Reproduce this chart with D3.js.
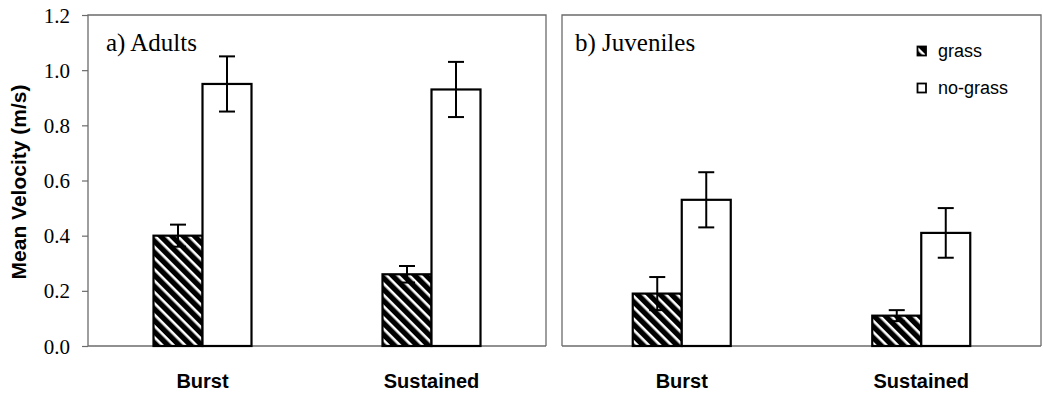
<!DOCTYPE html>
<html>
<head>
<meta charset="utf-8">
<script src="https://cdn.jsdelivr.net/npm/d3@7"></script>
<style>
  html, body { margin: 0; padding: 0; background: #fff; }
  svg { display: block; }
  .serif { font-family: "Liberation Serif", "Times New Roman", serif; }
  .sans { font-family: "Liberation Sans", Arial, sans-serif; }
  .yaxis text { font-family: "Liberation Serif", "Times New Roman", serif !important; font-size: 21px !important; fill: #000; }
</style>
</head>
<body>
<svg id="chart" width="1043" height="395"></svg>
<script>
// Mean swimming velocity by trial type, with and without grass
const categories = ["Burst", "Sustained"];
const seriesNames = ["grass", "no-grass"];
const panels = ["a) Adults", "b) Juveniles"];

const adultsGrass = [0.40, 0.26];
const adultsGrassErr = [0.04, 0.03];
const adultsNoGrass = [0.95, 0.93];
const adultsNoGrassErr = [0.10, 0.10];

const juvGrass = [0.19, 0.11];
const juvGrassErr = [0.06, 0.02];
const juvNoGrass = [0.53, 0.41];
const juvNoGrassErr = [0.10, 0.09];

const yTicks = [0, 0.2, 0.4, 0.6, 0.8, 1.0, 1.2];

const svg = d3.select("#chart");
const defs = svg.append("defs");

// diagonal hatch: black ground with thin white stripes running top-left to bottom-right
const pat = defs.append("pattern")
  .attr("id", "hatch")
  .attr("patternUnits", "userSpaceOnUse")
  .attr("width", 8).attr("height", 8)
  .attr("patternTransform", "rotate(45)");
pat.append("rect").attr("width", 8).attr("height", 8).attr("fill", "#000");
pat.append("rect").attr("x", 0).attr("y", 0).attr("width", 8).attr("height", 2.6).attr("fill", "#fff");

const plotTop = 15, plotBottom = 346;
const y = d3.scaleLinear().domain([0, 1.2]).range([plotBottom, plotTop]);

const panelBoxes = [
  { x0: 88, x1: 546, tx: 106, grass: adultsGrass, gErr: adultsGrassErr, ng: adultsNoGrass, ngErr: adultsNoGrassErr },
  { x0: 562, x1: 1041, tx: 575, grass: juvGrass, gErr: juvGrassErr, ng: juvNoGrass, ngErr: juvNoGrassErr }
];

const frameColor = "#6b6b6b";

panelBoxes.forEach((p, i) => {
  const g = svg.append("g");
  const x = d3.scaleBand().domain(categories).range([p.x0, p.x1]).paddingInner(0).paddingOuter(0);
  const bw = 49;
  const inner = d3.scaleBand().domain(seriesNames).range([-bw, bw]);

  // frame
  g.append("path")
    .attr("d", `M${p.x0},${plotBottom} V${plotTop} H${p.x1} V${plotBottom}`)
    .attr("fill", "none").attr("stroke", frameColor).attr("stroke-width", 1.3);
  g.append("line")
    .attr("x1", p.x0).attr("x2", p.x1).attr("y1", plotBottom).attr("y2", plotBottom)
    .attr("stroke", frameColor).attr("stroke-width", 1.3);

  const rows = categories.map((c, k) => ({
    cat: c,
    vals: [
      { s: "grass", v: p.grass[k], e: p.gErr[k] },
      { s: "no-grass", v: p.ng[k], e: p.ngErr[k] }
    ]
  }));

  rows.forEach(r => {
    const cx = x(r.cat) + x.bandwidth() / 2;
    r.vals.forEach(d => {
      const bx = cx + inner(d.s);
      g.append("rect")
        .attr("x", bx).attr("y", y(d.v))
        .attr("width", inner.bandwidth()).attr("height", y(0) - y(d.v))
        .attr("fill", d.s === "grass" ? "url(#hatch)" : "#fff")
        .attr("stroke", "#000").attr("stroke-width", 2.2);
      const ex = bx + inner.bandwidth() / 2;
      const eb = g.append("g").attr("stroke", "#000").attr("stroke-width", 2);
      eb.append("line").attr("x1", ex).attr("x2", ex).attr("y1", y(d.v + d.e)).attr("y2", y(d.v - d.e));
      eb.append("line").attr("x1", ex - 8).attr("x2", ex + 8).attr("y1", y(d.v + d.e)).attr("y2", y(d.v + d.e));
      eb.append("line").attr("x1", ex - 8).attr("x2", ex + 8).attr("y1", y(d.v - d.e)).attr("y2", y(d.v - d.e));
    });
    // category label
    svg.append("text")
      .attr("class", "sans")
      .attr("x", cx).attr("y", 388)
      .attr("text-anchor", "middle")
      .style("font-weight", "bold").style("font-size", "20px")
      .text(r.cat);
  });

  // panel title
  svg.append("text")
    .attr("class", "serif")
    .attr("x", p.tx).attr("y", 51)
    .style("font-size", "25px")
    .text(panels[i]);
});

// y axis on the left panel
const axis = d3.axisLeft(y).tickValues(yTicks).tickFormat(d3.format(".1f")).tickSize(6).tickPadding(12);
const ax = svg.append("g")
  .attr("class", "yaxis")
  .attr("transform", "translate(88,0)")
  .call(axis)
  .attr("font-family", null)
  .attr("font-size", null);
ax.select(".domain").remove();
ax.selectAll(".tick line").attr("stroke", frameColor).attr("stroke-width", 1.2);
ax.selectAll(".tick text").attr("dy", "0.34em");

// y axis title
svg.append("text")
  .attr("class", "sans")
  .attr("transform", `translate(26,182) rotate(-90)`)
  .attr("text-anchor", "middle")
  .style("font-weight", "bold").style("font-size", "21px")
  .text("Mean Velocity (m/s)");

// legend
const legend = svg.append("g").attr("transform", "translate(917,46)");
seriesNames.forEach((s, k) => {
  const row = legend.append("g").attr("transform", `translate(0,${k * 37})`);
  row.append("rect")
    .attr("x", 0.5).attr("y", 0.5).attr("width", 8.5).attr("height", 9)
    .attr("fill", s === "grass" ? "url(#hatch)" : "#fff")
    .attr("stroke", "#000").attr("stroke-width", 1.8);
  row.append("text")
    .attr("class", "sans")
    .attr("x", 21).attr("y", 11)
    .style("font-size", "18px")
    .text(s);
});
</script>
</body>
</html>
